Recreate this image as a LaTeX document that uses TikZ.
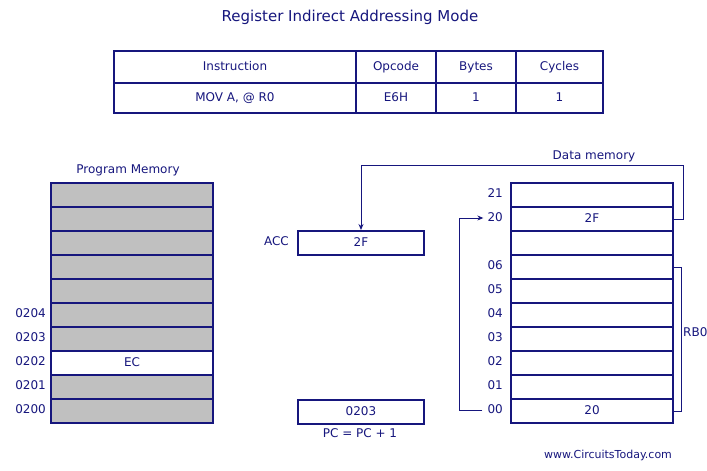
\documentclass[tikz,border=0pt]{standalone}
\usepackage{fontspec}
\setmainfont{DejaVu Sans}
\usetikzlibrary{arrows.meta,calc}
\definecolor{navy}{RGB}{22,22,125}
\definecolor{cellgray}{RGB}{192,192,192}
\begin{document}
\begin{tikzpicture}[x=1pt,y=-1pt,
  every node/.style={text=navy,font=\fontsize{12}{14}\selectfont,text height=0.73em,text depth=0pt},
  cell/.style={draw=navy,line width=2pt,minimum width=162pt,minimum height=24pt,inner sep=0pt,anchor=north west},
  graycell/.style={cell,fill=cellgray},
  reg/.style={draw=navy,line width=2pt,minimum width=126pt,minimum height=24pt,inner sep=0pt,anchor=north west},
  tcell/.style={draw=navy,line width=2pt,inner sep=0pt,anchor=north west},
  addr/.style={anchor=east,inner sep=1pt},
  conn/.style={draw=navy,line width=0.9pt},
  tip/.style={-{Stealth[length=6pt,width=5pt]}}]
\useasboundingbox (0,0) rectangle (707,471);
% title
\node[font=\fontsize{15}{17}\selectfont] (title) at (350,18) {Register Indirect Addressing Mode};
% table
\node[tcell,minimum width=242pt,minimum height=32pt] (h1) at (113,50) {Instruction};
\node[tcell,minimum width=80pt,minimum height=32pt] (h2) at (355,50) {Opcode};
\node[tcell,minimum width=80pt,minimum height=32pt] (h3) at (435,50) {Bytes};
\node[tcell,minimum width=87pt,minimum height=32pt] (h4) at (515,50) {Cycles};
\node[tcell,minimum width=242pt,minimum height=30pt] (r1) at (113,82) {MOV A, @ R0};
\node[tcell,minimum width=80pt,minimum height=30pt] (r2) at (355,82) {E6H};
\node[tcell,minimum width=80pt,minimum height=30pt] (r3) at (435,82) {1};
\node[tcell,minimum width=87pt,minimum height=30pt] (r4) at (515,82) {1};
% program memory
\node (pmlabel) at (128,170) {Program Memory};
\node[graycell] (p1) at (50,182) {};
\node[graycell] (p2) at (50,206) {};
\node[graycell] (p3) at (50,230) {};
\node[graycell] (p4) at (50,254) {};
\node[graycell] (p5) at (50,278) {};
\node[graycell] (p6) at (50,302) {};
\node[graycell] (p7) at (50,326) {};
\node[cell,fill=white] (p8) at (50,350) {EC};
\node[graycell] (p9) at (50,374) {};
\node[graycell] (p10) at (50,398) {};
\node[addr] (a0204) at (47,314) {0204};
\node[addr] (a0203) at (47,338) {0203};
\node[addr] (a0202) at (47,362) {0202};
\node[addr] (a0201) at (47,386) {0201};
\node[addr] (a0200) at (47,410) {0200};
% ACC and PC
\node[reg] (acc) at (297,230) {2F};
\node[anchor=east,inner sep=1pt] (acclabel) at (290,242) {ACC};
\node[reg] (pc) at (297,399) {0203};
\node[inner sep=1pt] (pclabel) at (360,434) {PC = PC + 1};
% data memory
\node (dmlabel) at (594,156) {Data memory};
\node[cell] (d21) at (510,182) {};
\node[cell] (d20) at (510,206) {2F};
\node[cell] (dgap) at (510,230) {};
\node[cell] (d06) at (510,254) {};
\node[cell] (d05) at (510,278) {};
\node[cell] (d04) at (510,302) {};
\node[cell] (d03) at (510,326) {};
\node[cell] (d02) at (510,350) {};
\node[cell] (d01) at (510,374) {};
\node[cell] (d00) at (510,398) {20};
\node[addr] (l21) at (504,194) {21};
\node[addr] (l20) at (504,218) {20};
\node[addr] (l06) at (504,266) {06};
\node[addr] (l05) at (504,290) {05};
\node[addr] (l04) at (504,314) {04};
\node[addr] (l03) at (504,338) {03};
\node[addr] (l02) at (504,362) {02};
\node[addr] (l01) at (504,386) {01};
\node[addr] (l00) at (504,410) {00};
% RB0 bracket
\draw[conn] (d06.east) -- ++(7,0) coordinate (b1) |- (d00.east);
\node[anchor=west,inner sep=1pt] (rb0) at (682,333) {RB0};
% connectors
\coordinate (toprow) at (0,165);
\draw[conn,tip] (d20.east) -- ++(9,0) coordinate (c1) -- (c1 |- toprow) -| (acc.north);
\draw[conn,tip] ($(l00.west)+(-4,0)$) -- (459,410) coordinate (c2) -- (c2 |- l20) -- ($(l20.west)+(-3,0)$);
% footer
\node[font=\fontsize{11}{13}\selectfont] (footer) at (608,455) {www.CircuitsToday.com};
\end{tikzpicture}
\end{document}
